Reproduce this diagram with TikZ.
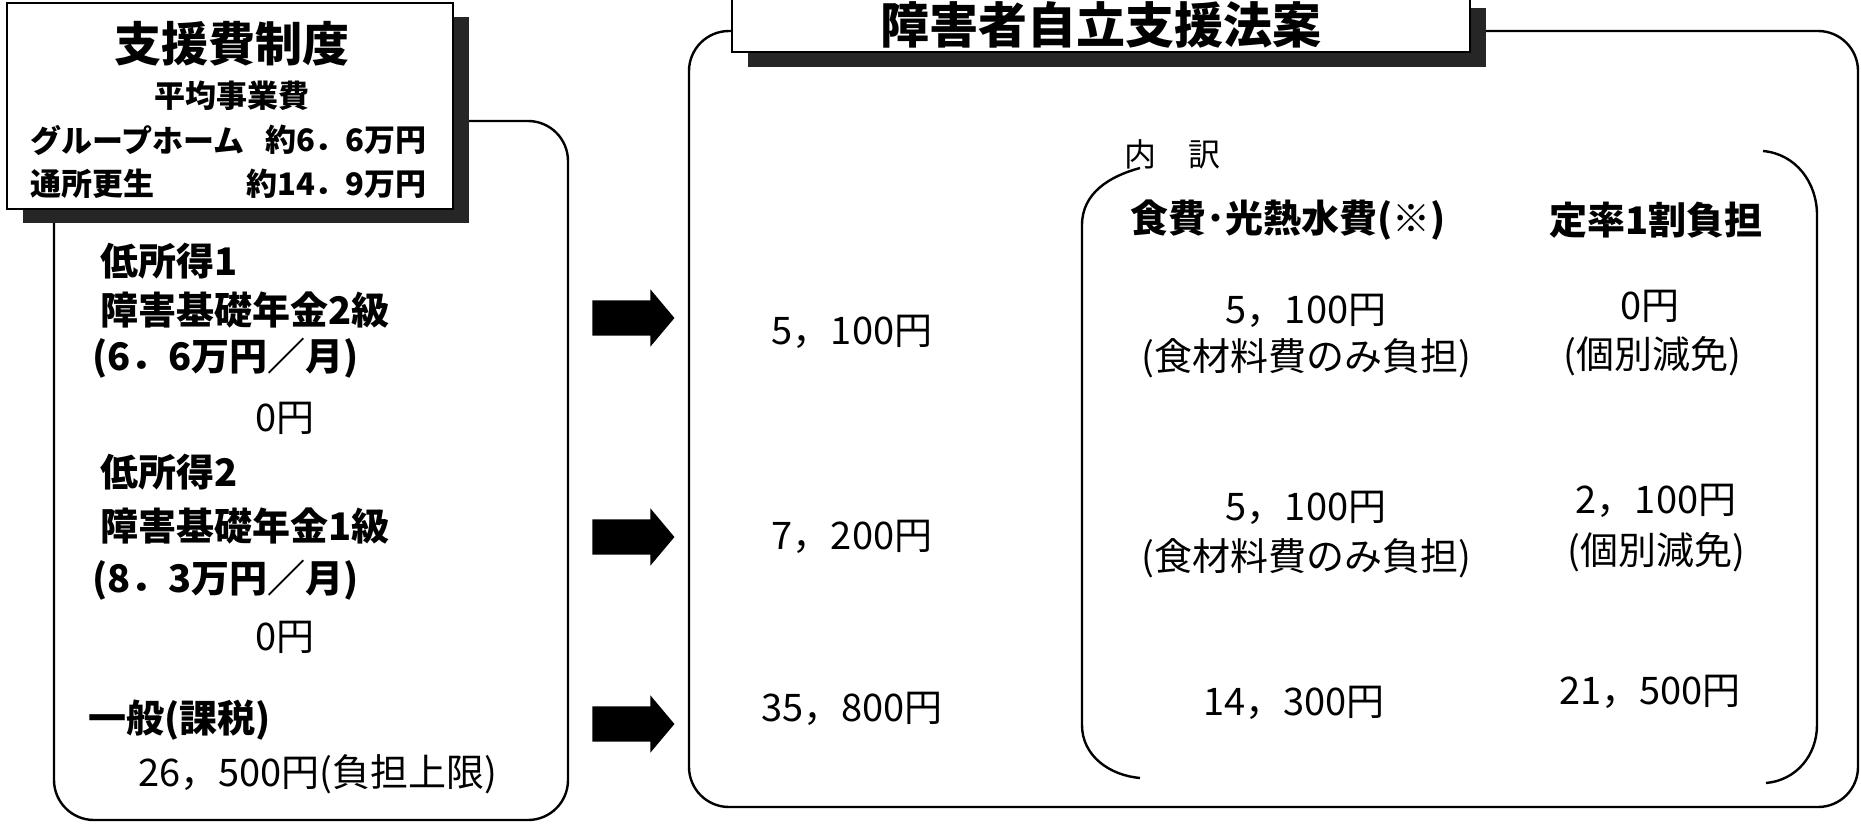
\documentclass[tikz,border=0pt]{standalone}
\usepackage{fontspec}
\setmainfont{Noto Sans CJK JP}
\usetikzlibrary{shapes.arrows}
\tikzstyle{body}=[inner sep=0pt, font=\fontsize{38}{38}\selectfont]
\tikzstyle{bbody}=[inner sep=0pt, font=\bfseries\fontsize{38}{38}\selectfont]
\tikzstyle{head}=[inner sep=0pt, font=\bfseries\fontsize{31}{31}\selectfont]
\tikzstyle{titlebox}=[draw=black, fill=white, line width=2pt]
\tikzstyle{shadow}=[fill=black!85]
\tikzstyle{frame}=[draw=black, line width=2.4pt, rounded corners=40pt]
\tikzstyle{bracket}=[draw=black, line width=2.4pt]
\tikzstyle{fatarrow}=[single arrow, fill=black, minimum height=82pt, inner sep=17.5pt, single arrow head extend=11pt, single arrow tip angle=100]

\begin{document}
\begin{tikzpicture}[x=1pt, y=-1pt]
    \useasboundingbox (0,0) rectangle (1861,825);

    % left: current system
    \draw [frame] (54,121) rectangle (568,820);
    \fill [shadow] (23,17) rectangle (469,223);
    \draw [titlebox] (7,3) rectangle (453,209);
    \node (seido) at (232,44) [inner sep=0pt, font=\bfseries\fontsize{47}{47}\selectfont] {支援費制度};
    \node (heikin) at (232,96) [head] {平均事業費};
    \node (gh) at (30,140) [head, anchor=west] {グループホーム};
    \node (ghval) at (427,140) [head, anchor=east] {約6．6万円};
    \node (tsusho) at (30,184) [head, anchor=west] {通所更生};
    \node (tsushoval) at (427,184) [head, anchor=east] {約14．9万円};

    \node (tei1) at (100,261) [bbody, anchor=west] {低所得1};
    \node (kiso2) at (100,310) [bbody, anchor=west] {障害基礎年金2級};
    \node (nenkin2) at (92,358) [bbody, anchor=west] {(6．6万円／月)};
    \node (zero1) at (285,418) [body] {0円};
    \node (tei2) at (100,472) [bbody, anchor=west] {低所得2};
    \node (kiso1) at (100,526) [bbody, anchor=west] {障害基礎年金1級};
    \node (nenkin1) at (92,580) [bbody, anchor=west] {(8．3万円／月)};
    \node (zero2) at (285,637) [body] {0円};
    \node (ippan) at (88,720) [bbody, anchor=west] {一般(課税)};
    \node (jogen) at (138,774) [body, anchor=west] {26，500円(負担上限)};

    % arrows
    \node (arr1) at (626,318) [fatarrow] {};
    \node (arr2) at (626,537) [fatarrow] {};
    \node (arr3) at (626,724) [fatarrow] {};

    % right: new law
    \draw [frame] (689,31) rectangle (1858,807);
    \fill [shadow] (748,8) rectangle (1486,67);
    \draw [titlebox] (732,-8) rectangle (1470,52);
    \node (hoan) at (1101,25) [inner sep=0pt, font=\bfseries\fontsize{49}{49}\selectfont] {障害者自立支援法案};

    \node (r1) at (852,332) [body] {5，100円};
    \node (r2) at (852,537) [body] {7，200円};
    \node (r3) at (852,709) [body] {35，800円};

    \node (uchiwake) at (1124,154) [inner sep=0pt, anchor=west, font=\fontsize{32}{32}\selectfont] {内　訳};
    \draw [bracket] (1140,168) to[out=195,in=90] (1082,225) -- (1082,725) to[out=-90,in=175] (1140,778);
    \draw [bracket] (1763,151) to[out=-5,in=90] (1817,215) -- (1817,725) to[out=-90,in=5] (1766,783);

    \node (shokuhi) at (1288,220) [bbody] {食費･光熱水費(※)};
    \node (teiritsu) at (1656,220) [bbody] {定率1割負担};
    \node (s1) at (1306,311) [body] {5，100円};
    \node (s1n) at (1306,358) [body] {(食材料費のみ負担)};
    \node (t1) at (1650,306) [body] {0円};
    \node (t1n) at (1652,356) [body] {(個別減免)};
    \node (s2) at (1306,508) [body] {5，100円};
    \node (s2n) at (1306,558) [body] {(食材料費のみ負担)};
    \node (t2) at (1656,501) [body] {2，100円};
    \node (t2n) at (1656,552) [body] {(個別減免)};
    \node (s3) at (1294,703) [body] {14，300円};
    \node (t3) at (1650,692) [body] {21，500円};
\end{tikzpicture}
\end{document}
